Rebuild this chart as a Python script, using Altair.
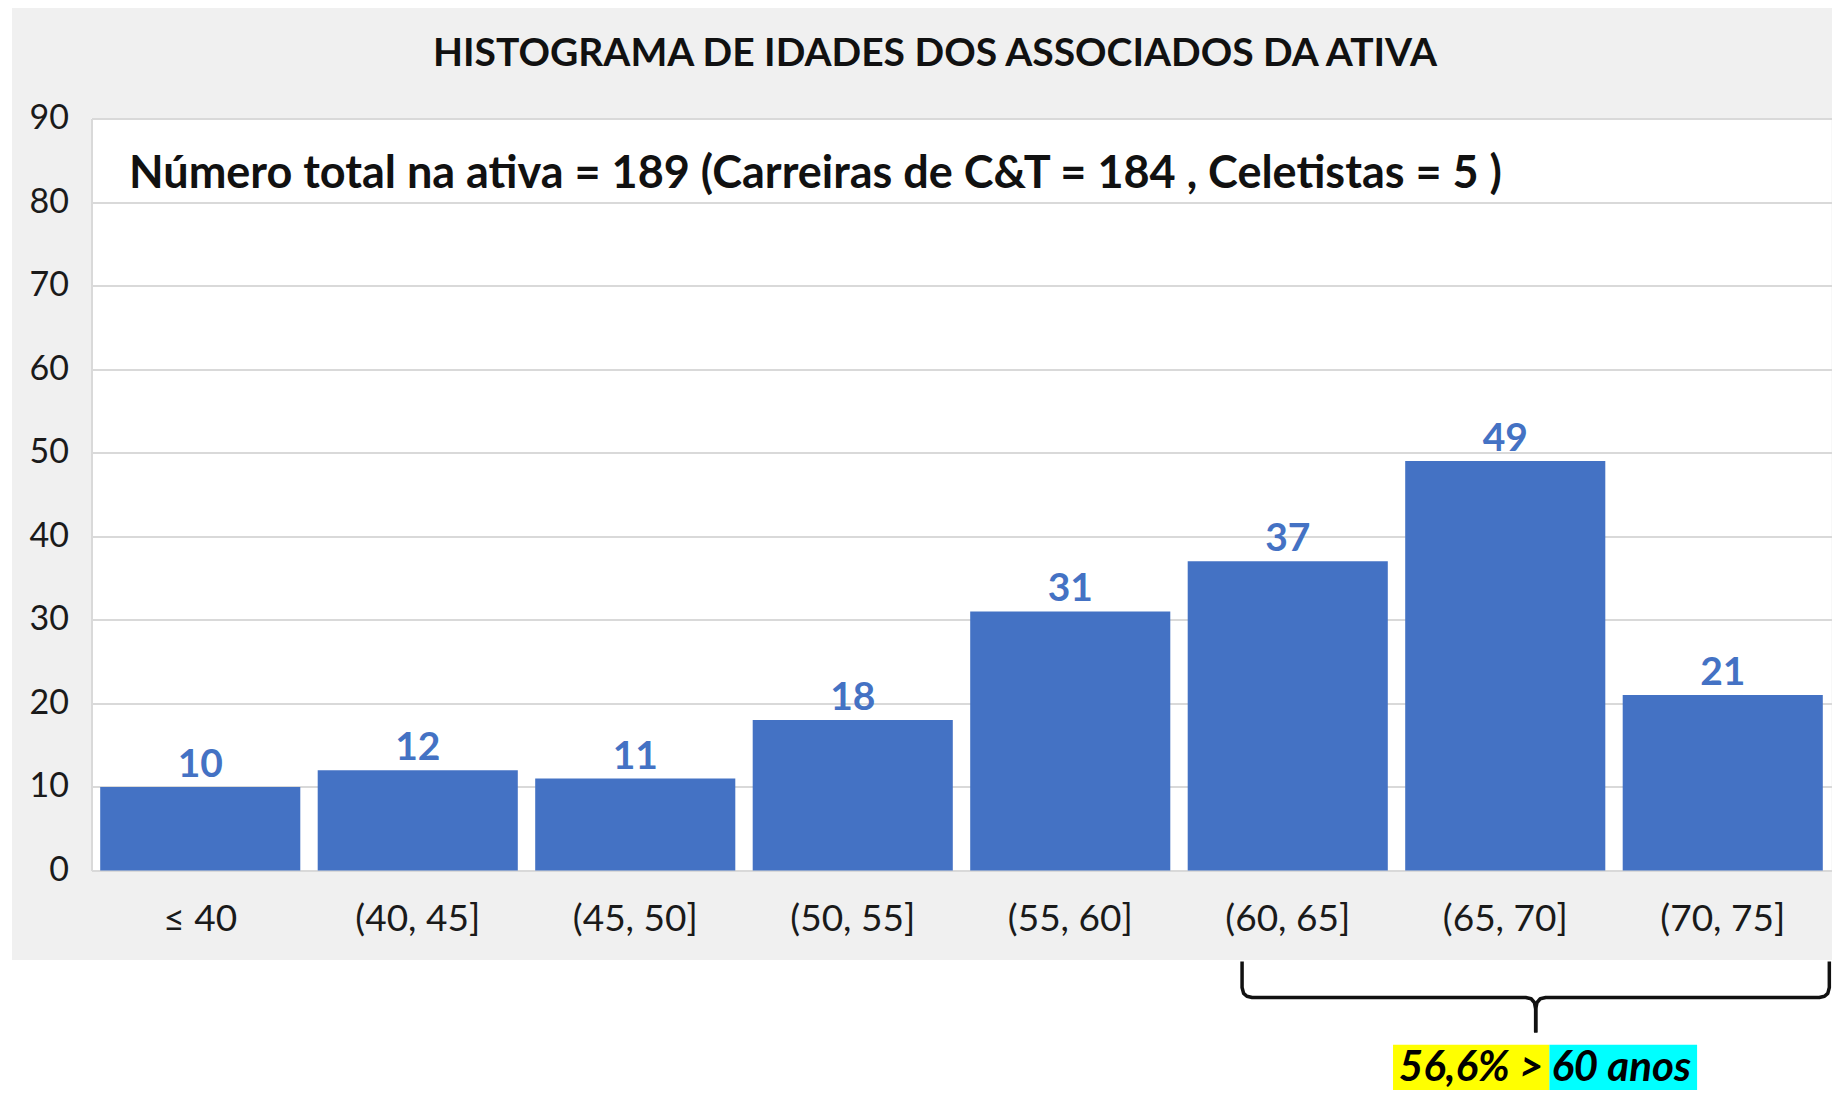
import altair as alt
import pandas as pd

categories = ["≤ 40", "(40, 45]", "(45, 50]", "(50, 55]", "(55, 60]", "(60, 65]", "(65, 70]", "(70, 75]"]
counts = [10, 12, 11, 18, 31, 37, 49, 21]
y_ticks = [0, 10, 20, 30, 40, 50, 60, 70, 80, 90]

title_text = "HISTOGRAMA DE IDADES DOS ASSOCIADOS DA ATIVA"
subtitle_text = "Número total na ativa = 189 (Carreiras de C&T = 184 , Celetistas = 5 )"

# brace (x in category-band units, y in count units)
brace_side = ["L"] * 10 + ["R"] * 10
brace_order = list(range(10)) + list(range(10))
brace_x = [5.290, 5.290, 5.297, 5.312, 5.336, 6.594, 6.619, 6.634, 6.640, 6.640,
           7.990, 7.990, 7.983, 7.968, 7.944, 6.686, 6.661, 6.646, 6.640, 6.640]
brace_y = [-10.9, -14.0, -14.7, -15.05, -15.2, -15.2, -15.35, -15.8, -16.6, -19.4,
           -10.9, -14.0, -14.7, -15.05, -15.2, -15.2, -15.35, -15.8, -16.6, -19.4]

note_parts = ["56,6% >", "60 anos"]
note_x = [5.984, 6.703]
note_x2 = [6.703, 7.382]
note_colors = ["#FFFF00", "#00FFFF"]

W, H = 1740, 752
FONT = "Lato"
BLUE = "#4472C4"

df = pd.DataFrame({"cat": categories, "count": counts})
brace_df = pd.DataFrame({"side": brace_side, "i": brace_order, "bx": brace_x, "by": brace_y})
note_df = pd.DataFrame({"part": note_parts, "x": note_x, "x2": note_x2, "col": note_colors,
                        "y": [-20.86] * 2, "y2": [-27.1] * 2, "ym": [-23.6] * 2})
one = pd.DataFrame({"a": [0]})

xband = alt.Scale(domain=categories, paddingInner=0.08, paddingOuter=0.04)
yscale = alt.Scale(domain=[0, 90], nice=False)
xlin = alt.Scale(domain=[0, 8], nice=False, zero=False)

bars = alt.Chart(df).mark_bar(color=BLUE).encode(
    x=alt.X("cat:N", sort=categories, scale=xband, title=None,
            axis=alt.Axis(labelAngle=0, labelFont=FONT, labelFontSize=37, labelColor="#1a1a1a",
                          ticks=False, tickSize=0, labelPadding=49, labelBaseline="middle",
                          domainColor="#d9d9d9", domainWidth=2, grid=False)),
    y=alt.Y("count:Q", scale=yscale, title=None,
            axis=alt.Axis(values=y_ticks, labelFont=FONT, labelFontSize=34, labelColor="#1a1a1a",
                          ticks=False, tickSize=0, labelPadding=23, grid=True,
                          gridColor="#d9d9d9", gridWidth=2, domainColor="#d9d9d9", domainWidth=2)),
)

labels = alt.Chart(df).mark_text(dy=-10, baseline="alphabetic", fontSize=39, fontWeight="bold",
                                 color=BLUE, font=FONT).encode(
    x=alt.X("cat:N", sort=categories, scale=xband),
    y=alt.Y("count:Q", scale=yscale),
    text="count:Q",
)

main = alt.layer(bars, labels)

white_bottom = alt.Chart(one).mark_rect(color="white").encode(
    x=alt.value(-120), x2=alt.value(W + 120), y=alt.value(H + 89.5), y2=alt.value(H + 400)
)
white_left = alt.Chart(one).mark_rect(color="white").encode(
    x=alt.value(-120), x2=alt.value(-79.5), y=alt.value(-200), y2=alt.value(H + 400)
)

title = alt.Chart(one).mark_text(align="center", baseline="middle", fontSize=39, fontWeight="bold",
                                 font=FONT, color="#111111").encode(
    x=alt.value(843.5), y=alt.value(-64.5), text=alt.value(title_text)
)

subtitle = alt.Chart(one).mark_text(align="left", baseline="middle", fontSize=45, fontWeight="bold",
                                    font=FONT, color="#111111").encode(
    x=alt.value(37.5), y=alt.value(55.5), text=alt.value(subtitle_text)
)

brace = alt.Chart(brace_df).mark_line(color="#111111", strokeWidth=3.5, strokeJoin="round").encode(
    x=alt.X("bx:Q", scale=xlin, axis=None),
    y=alt.Y("by:Q", scale=yscale, axis=None),
    detail="side:N",
    order="i:Q",
)

boxes = alt.Chart(note_df).mark_rect().encode(
    x=alt.X("x:Q", scale=xlin, axis=None),
    x2="x2:Q",
    y=alt.Y("y:Q", scale=yscale, axis=None),
    y2="y2:Q",
    color=alt.Color("col:N", scale=None, legend=None),
)

note_left = alt.Chart(note_df.iloc[[0]]).mark_text(
    align="right", baseline="middle", dx=-6, fontSize=42, fontWeight="bold", fontStyle="italic",
    font=FONT, color="#000000").encode(
    x=alt.X("x2:Q", scale=xlin, axis=None),
    y=alt.Y("ym:Q", scale=yscale, axis=None),
    text="part:N",
)
note_right = alt.Chart(note_df.iloc[[1]]).mark_text(
    align="left", baseline="middle", dx=2, fontSize=42, fontWeight="bold", fontStyle="italic",
    font=FONT, color="#000000").encode(
    x=alt.X("x:Q", scale=xlin, axis=None),
    y=alt.Y("ym:Q", scale=yscale, axis=None),
    text="part:N",
)

annot = alt.layer(white_bottom, white_left, title, subtitle, brace, boxes, note_left, note_right)

chart = alt.layer(main, annot).resolve_scale(x="independent", y="independent").properties(
    width=W, height=H,
    padding={"left": 83.5, "top": 110.5, "right": 0, "bottom": 219.5},
    autosize=alt.AutoSizeParams(type="none"),
    background="#f0f0f0",
).configure_view(fill="white", stroke=None)

chart.save("out.html", embed_options={"renderer": "svg", "actions": False})
